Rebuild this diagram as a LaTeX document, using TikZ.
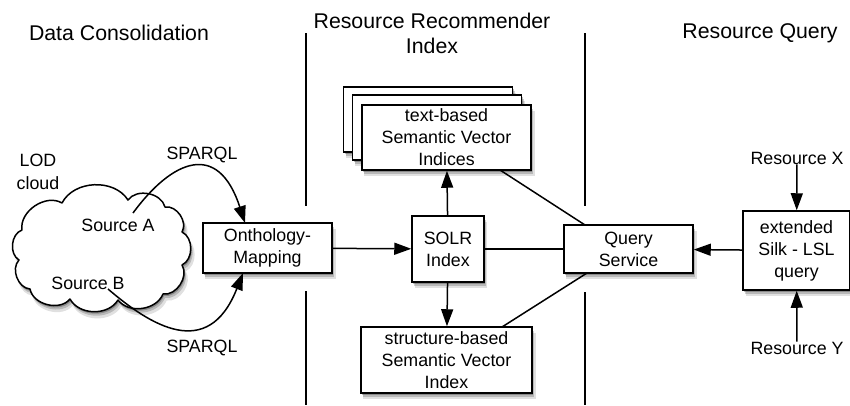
\documentclass[tikz,border=0pt]{standalone}
\usepackage{fontspec}
\setmainfont{Liberation Sans}
\usetikzlibrary{arrows.meta,shadows}
\begin{document}
\begin{tikzpicture}[x=1pt,y=-1pt,
  softshadow/.style={
    drop shadow={shadow xshift=3pt, shadow yshift=-6pt, opacity=0.12, fill=black, shadow scale=1.01},
    drop shadow={shadow xshift=2pt, shadow yshift=-4pt, opacity=0.18, fill=black},
    drop shadow={shadow xshift=1pt, shadow yshift=-2pt, opacity=0.25, fill=black}},
  box/.style={draw, fill=white, line width=1.5pt, align=center,
    font=\fontsize{17.8}{22}\selectfont, inner sep=0pt, softshadow},
  lbl/.style={align=center, font=\fontsize{17.8}{22.5}\selectfont, inner sep=0pt},
  ttl/.style={align=center, font=\fontsize{21.3}{25}\selectfont, inner sep=0pt},
  conn/.style={line width=1.5pt},
  arr/.style={conn, -{Triangle[length=17pt,width=12pt]}},
  divider/.style={line width=1.5pt}]
\useasboundingbox (0,0) rectangle (850,405);

% titles
\node[ttl] (t1) at (119,33) {Data Consolidation};
\node[ttl] (t2) at (432,33.5) {Resource Recommender\\Index};
\node[ttl] (t3) at (760,33) {Resource Query};

% dividers
\draw[divider] (306,33) -- (306,206);
\draw[divider] (306,291) -- (306,405);
\draw[divider] (585,33) -- (585,206);
\draw[divider] (585,292) -- (585,405);

% cloud (drawn directly)
\begin{scope}[y=1pt]
\path[draw, fill=white, line width=1.5pt, line join=round, softshadow]
  (22,-230) to[bend left=65] (62,-203) to[bend left=60] (128,-200)
  to[bend left=65] (165,-207) to[bend left=65] (182,-232)
  to[bend left=65] (182,-265) to[bend left=65] (163,-294)
  to[bend left=60] (118,-300) to[bend left=60] (70,-299)
  to[bend left=65] (30,-289) to[bend left=65] (19,-260)
  to[bend left=65] cycle;
\end{scope}
\node[lbl] (lod) at (38,172) {LOD\\cloud};
\node[lbl] (srcA) at (118,225) {Source A};
\node[lbl] (srcB) at (88,283) {Source B};
\node[lbl] (sp1) at (202,155) {SPARQL};
\node[lbl] (sp2) at (202,348) {SPARQL};

% boxes
\node[box, minimum width=129pt, minimum height=50pt] (onto) at (267.5,248) {Onthology-\\Mapping};
\node[box, minimum width=72pt, minimum height=66pt] (solr) at (448,249) {SOLR\\Index};
\node[box, minimum width=129pt, minimum height=48pt] (query) at (628.5,249) {Query\\Service};
\node[box, minimum width=107pt, minimum height=79pt] (ext) at (796.5,250.5) {extended\\Silk - LSL\\query};

\node[box, minimum width=169pt, minimum height=65pt] (tb3) at (428,119.5) {};
\node[box, minimum width=169pt, minimum height=65pt] (tb2) at (437,127.5) {};
\node[box, minimum width=169pt, minimum height=65pt] (tb) at (446.5,137.5) {text-based\\Semantic Vector\\Indices};
\node[box, minimum width=171pt, minimum height=66pt] (sb) at (446.5,360) {structure-based\\Semantic Vector\\Index};

\node[lbl] (rx) at (797,158) {Resource X};
\node[lbl] (ry) at (797,348) {Resource Y};

% connector end points
\coordinate (a0) at (133,213);
\coordinate (b0) at (108,289);
\coordinate (a1) at (245,223);
\coordinate (b1) at (243,273);
\coordinate (tbq) at (500,170);
\coordinate (qt) at (585,225);
\coordinate (sbq) at (502,327);
\coordinate (qb) at (587,273);

% connectors
\draw[arr] (a0) .. controls (172,160) and (218,140) .. (a1);
\draw[arr] (b0) .. controls (150,325) and (208,362) .. (b1);
\draw[arr] (onto) -- (solr);
\draw[conn] (solr) -- (query);
\draw[arr] (ext) -- (query);
\draw[arr] (solr) -- (tb);
\draw[arr] (solr) -- (sb);
\draw[conn] (tbq) -- (qt);
\draw[conn] (sbq) -- (qb);
\draw[arr] (rx) -- (ext);
\draw[arr] (ry) -- (ext);
\end{tikzpicture}
\end{document}
